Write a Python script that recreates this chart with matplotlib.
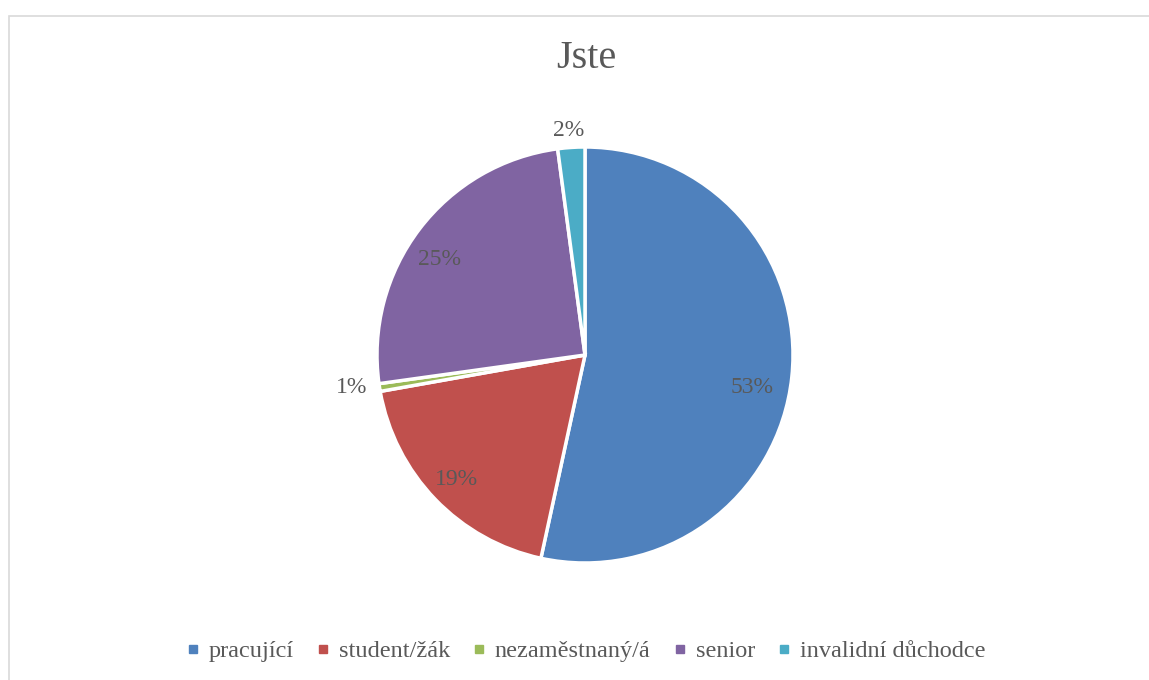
import numpy as np
import matplotlib
matplotlib.use("Agg")
import matplotlib.pyplot as plt
from matplotlib.lines import Line2D
from matplotlib.patches import Rectangle

categories = ["pracující", "student/žák", "nezaměstnaný/á", "senior", "invalidní důchodce"]
values = [53.4, 18.8, 0.6, 25.1, 2.1]
colors = ["#4F81BD", "#C0504D", "#9BBB59", "#8064A2", "#4BACC6"]
title = "Jste"

plt.rcParams['font.family'] = ['Liberation Serif', 'DejaVu Serif']
txt = "#595959"

W, H = 1149, 680
fig = plt.figure(figsize=(W / 100, H / 100), dpi=100)
fig.patch.set_facecolor("white")

# chart frame
fig.patches.append(Rectangle((8.5 / W, -0.05), 1.2, 1 - 15.5 / H + 0.05, transform=fig.transFigure,
                             fill=False, edgecolor="#D9D9D9", linewidth=1.2))

cx, cy, r = 585, 355, 208
ax = fig.add_axes([(cx - r) / W, (H - cy - r) / H, 2 * r / W, 2 * r / H])
wedges, _ = ax.pie(values, colors=colors, startangle=90, counterclock=False, radius=1,
                   wedgeprops=dict(edgecolor="white", linewidth=2.5))
ax.set_xlim(-1, 1)
ax.set_ylim(-1, 1)
ax.axis("off")

dists = [0.82, 0.86, 1.135, 0.837, 1.08]
ang_off = [-4.7, 0.0, -1.0, 3.9, 0.5]
total = sum(values)
for w, v, d, o in zip(wedges, values, dists, ang_off):
    ang = np.deg2rad((w.theta1 + w.theta2) / 2 + o)
    x, y = d * np.cos(ang), d * np.sin(ang)
    ax.text(x, y, f"{round(v / total * 100):.0f}%", ha="center", va="center",
            fontsize=17, color=txt, clip_on=False)

fig.text(0.51, 1 - 58 / H, title, ha="center", va="center", fontsize=29, color=txt)

handles = [Line2D([0], [0], marker="s", linestyle="none", markersize=6,
                  markerfacecolor=c, markeredgecolor=c) for c in colors]
fig.legend(handles, categories, loc="center", bbox_to_anchor=(0.51, 1 - 651 / H), ncol=5,
           frameon=False, fontsize=17.5, labelcolor=txt, handlelength=0.5, handletextpad=0.4,
           columnspacing=0.95)

fig.savefig("out.png", dpi=100)
